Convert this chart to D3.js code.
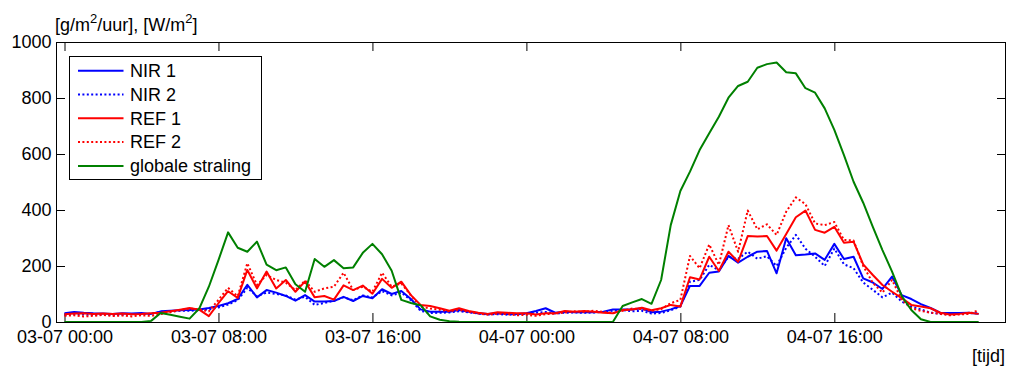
<!DOCTYPE html>
<html>
<head>
<meta charset="utf-8">
<script src="https://cdn.jsdelivr.net/npm/d3@7"></script>
<style>
  html, body { margin: 0; padding: 0; background: #fff; }
  svg { display: block; }
  text { font-family: "Liberation Sans", Arial, sans-serif; fill: #000; }
</style>
</head>
<body>
<svg id="chart" width="1011" height="367"></svg>
<script>
// Half-hourly measurements, starting 03-07 00:00
const startTime = new Date(2011, 6, 3, 0, 0);
const stepMinutes = 30;

const seriesNames = ["NIR 1", "NIR 2", "REF 1", "REF 2", "globale straling"];

// NIR 1 [g/m2/uur]
const nir1 = [
  31, 36, 33, 31, 30, 29, 31, 30, 32, 29,
  38, 40, 42, 43, 45, 50, 57, 67, 82, 133,
  88, 114, 105, 93, 76, 96, 73, 73, 75, 90,
  75, 93, 85, 117, 100, 111, 82, 45, 37, 37,
  37, 43, 37, 31, 29, 31, 29, 29, 31, 39,
  49, 33, 37, 35, 35, 35, 37, 45, 45, 45,
  49, 35, 37, 45, 57, 129, 129, 176, 180, 236,
  212, 233, 251, 254, 174, 299, 238, 241, 245, 222,
  279, 225, 233, 156, 141, 118, 162, 96, 82, 64,
  50, 33, 32, 32, 33, 29
];

// NIR 2 [g/m2/uur]
const nir2 = [
  25, 28, 27, 25, 27, 24, 26, 28, 27, 30,
  36, 38, 40, 40, 42, 45, 52, 62, 78, 122,
  92, 105, 100, 95, 80, 90, 61, 68, 76, 88,
  78, 95, 88, 110, 95, 105, 78, 40, 32, 33,
  34, 38, 35, 30, 27, 28, 26, 27, 30, 33,
  36, 30, 33, 34, 33, 34, 36, 40, 42, 38,
  40, 30, 32, 42, 55, 144, 150, 204, 185, 233,
  226, 251, 226, 235, 200, 265, 311, 262, 233, 200,
  262, 206, 192, 141, 115, 88, 105, 73, 55, 45,
  33, 29, 27, 29, 31, 31
];

// REF 1 [g/m2/uur]
const ref1 = [
  28, 30, 31, 29, 30, 29, 30, 28, 29, 31,
  33, 38, 44, 50, 44, 21, 67, 110, 86, 186,
  120, 180, 120, 150, 108, 145, 88, 93, 80, 131,
  114, 130, 101, 154, 122, 144, 96, 61, 57, 49,
  40, 49, 39, 33, 29, 35, 33, 31, 31, 27,
  31, 31, 39, 37, 39, 37, 33, 31, 43, 45,
  51, 42, 49, 61, 55, 160, 152, 233, 182, 251,
  215, 307, 305, 307, 255, 314, 374, 398, 329, 319,
  340, 283, 287, 206, 168, 132, 108, 85, 61, 55,
  49, 33, 27, 29, 33, 29
];

// REF 2 [g/m2/uur]
const ref2 = [
  22, 24, 20, 22, 25, 21, 23, 20, 24, 22,
  28, 35, 42, 48, 45, 38, 79, 122, 92, 210,
  132, 168, 150, 140, 114, 148, 108, 120, 126, 176,
  114, 126, 108, 176, 126, 138, 95, 55, 48, 44,
  38, 44, 36, 30, 26, 30, 28, 24, 26, 22,
  28, 30, 34, 38, 36, 40, 36, 32, 40, 48,
  46, 40, 46, 67, 79, 236, 192, 277, 204, 346,
  251, 398, 331, 349, 311, 394, 445, 421, 352, 346,
  357, 293, 291, 200, 140, 105, 150, 80, 49, 40,
  33, 29, 24, 27, 29, 43
];

// globale straling [W/m2]
const globalRadiation = [
  0, 0, 0, 0, 0, 0, 0, 0, 0, 4,
  32, 26, 19, 12, 48, 126, 221, 320, 265, 251,
  287, 205, 185, 195, 135, 108, 225, 197, 221, 192,
  195, 247, 279, 242, 183, 79, 68, 60, 20, 8,
  3, 1, 0, 0, 0, 0, 0, 0, 0, 0,
  0, 0, 0, 0, 0, 0, 0, 1, 57, 70,
  82, 65, 150, 346, 468, 537, 614, 674, 733, 801,
  843, 858, 908, 921, 927, 892, 888, 835, 819, 763,
  686, 596, 501, 426, 340, 257, 180, 93, 43, 10,
  0, 0, 0, 0, 0, 0
];

const yTicks = [0, 200, 400, 600, 800, 1000];
const xTickStepHours = 8;
const xTickCount = 6;

const series = [
  { name: seriesNames[0], values: nir1, color: "#0000ff", dash: null },
  { name: seriesNames[1], values: nir2, color: "#0000ff", dash: "2,2.4" },
  { name: seriesNames[2], values: ref1, color: "#ff0000", dash: null },
  { name: seriesNames[3], values: ref2, color: "#ff0000", dash: "2,2.4" },
  { name: seriesNames[4], values: globalRadiation, color: "#008000", dash: null }
];

const times = nir1.map((_, i) => d3.timeMinute.offset(startTime, i * stepMinutes));

const svg = d3.select("#chart");
const plot = { left: 56, right: 1006, top: 42, bottom: 322 };

const x = d3.scaleTime()
  .domain([d3.timeSecond.offset(startTime, -1590), d3.timeSecond.offset(startTime, 48 * 3600 + 3312)])
  .range([plot.left, plot.right]);
const y = d3.scaleLinear().domain([0, 1000]).range([plot.bottom, plot.top]);

const xTickValues = d3.range(xTickCount).map(k => d3.timeHour.offset(startTime, k * xTickStepHours));
const fmt = d3.timeFormat("%d-%m %H:%M");

// Clip region for the data lines
svg.append("defs").append("clipPath").attr("id", "plotClip")
  .append("rect")
  .attr("x", plot.left).attr("y", plot.top)
  .attr("width", plot.right - plot.left).attr("height", plot.bottom - plot.top);

// Axes: ticks point into the plot box on all four sides
const fontSize = "18px";
function styleAxis(g) {
  g.select(".domain").remove();
  g.selectAll(".tick line").attr("stroke", "#000").attr("stroke-width", 1);
  g.selectAll(".tick text").style("font-size", fontSize)
    .style("font-family", '"Liberation Sans", Arial, sans-serif');
}

svg.append("g")
  .attr("transform", `translate(0,${plot.bottom})`)
  .call(d3.axisBottom(x).tickValues(xTickValues).tickFormat(fmt).tickSize(-9).tickPadding(8))
  .call(styleAxis);

svg.append("g")
  .attr("transform", `translate(0,${plot.top})`)
  .call(d3.axisTop(x).tickValues(xTickValues).tickFormat("").tickSize(-9))
  .call(styleAxis);

svg.append("g")
  .attr("transform", `translate(${plot.left},0)`)
  .call(d3.axisLeft(y).tickValues(yTicks).tickFormat(d3.format("d")).tickSize(-9).tickPadding(4.5))
  .call(styleAxis);

svg.append("g")
  .attr("transform", `translate(${plot.right},0)`)
  .call(d3.axisRight(y).tickValues(yTicks).tickFormat("").tickSize(-9))
  .call(styleAxis);

// Data lines
const line = d3.line()
  .x((d, i) => x(times[i]))
  .y(d => y(d));

const linesG = svg.append("g").attr("clip-path", "url(#plotClip)");
series.forEach(s => {
  linesG.append("path")
    .datum(s.values)
    .attr("fill", "none")
    .attr("stroke", s.color)
    .attr("stroke-width", 2)
    .attr("stroke-linejoin", "round")
    .attr("stroke-dasharray", s.dash)
    .attr("d", line);
});

// Plot frame
svg.append("rect")
  .attr("x", plot.left + 0.5).attr("y", plot.top + 0.5)
  .attr("width", plot.right - plot.left - 1).attr("height", plot.bottom - plot.top)
  .attr("fill", "none").attr("stroke", "#000").attr("stroke-width", 1);

// Y-axis unit label with superscripts
const yLabel = svg.append("text")
  .attr("x", 55).attr("y", 30.5)
  .style("font-size", fontSize);
yLabel.append("tspan").text("[g/m");
yLabel.append("tspan").attr("dy", -8).style("font-size", "13px").text("2");
yLabel.append("tspan").attr("dy", 8).text("/uur], [W/m");
yLabel.append("tspan").attr("dy", -8).style("font-size", "13px").text("2");
yLabel.append("tspan").attr("dy", 8).text("]");

// X-axis unit label
svg.append("text")
  .attr("x", 1005).attr("y", 361.5)
  .attr("text-anchor", "end")
  .style("font-size", fontSize)
  .text("[tijd]");

// Legend
const legend = svg.append("g");
legend.append("rect")
  .attr("x", 69.5).attr("y", 56.5)
  .attr("width", 192).attr("height", 123)
  .attr("fill", "#fff").attr("stroke", "#000").attr("stroke-width", 1);

series.forEach((s, i) => {
  const cy = 70.7 + i * 23.8;
  legend.append("line")
    .attr("x1", 78).attr("x2", 123.5)
    .attr("y1", cy).attr("y2", cy)
    .attr("stroke", s.color).attr("stroke-width", 2)
    .attr("stroke-dasharray", s.dash);
  legend.append("text")
    .attr("x", 130).attr("y", cy).attr("dy", "0.35em")
    .style("font-size", fontSize)
    .text(s.name);
});
</script>
</body>
</html>
